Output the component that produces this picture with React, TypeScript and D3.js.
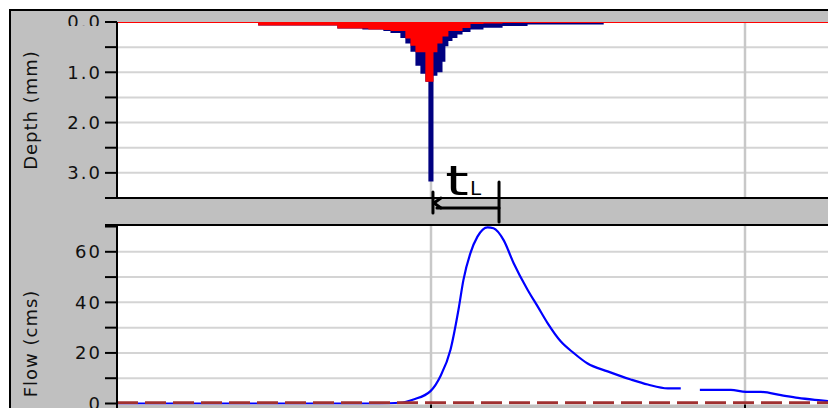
import React, { useRef, useEffect } from "react";
import * as d3 from "d3";

// rainfall hyetograph, step values start at each hour listed
const rainHours = [
  10.79, 16.84, 18.75, 19.21, 20.36, 20.9, 21.66, 22.04, 22.43, 22.81, 23.19, 23.57, 23.8,
  24.19, 24.49, 24.88, 25.1, 25.33, 25.64, 26.02, 26.41, 27.02, 28.01, 29.47, 31.38, 37.2,
];
const rainTotal = [
  0.07, 0.13, 0.15, 0.15, 0.18, 0.22, 0.32, 0.43, 0.59, 0.87, 1.03, 1.19, 3.17,
  1.07, 1.0, 0.79, 0.48, 0.38, 0.32, 0.25, 0.2, 0.15, 0.115, 0.08, 0.05, 0,
];
const rainExcess = [
  0.07, 0.13, 0.13, 0.15, 0.16, 0.18, 0.18, 0.33, 0.47, 0.6, 0.6, 1.19, 1.19,
  0.6, 0.43, 0.29, 0.29, 0.18, 0.18, 0.18, 0.12, 0.04, 0.03, 0.02, 0.02, 0,
];

// runoff hydrograph (null = missing record)
const flowHours = [
  0, 20.0, 21.66, 22.66, 23.96, 24.72, 25.49, 26.1, 26.48, 27.02, 27.55, 28.32, 28.78,
  29.54, 30.31, 31.38, 32.15, 32.91, 33.91, 34.9, 35.97, 37.5, 39.27, 40.57, 42.1, 43.09,
  44.0, 44.55, 46.92, 48.07, 49.22, 50.75, 52.05, 53.8, 55.34,
];
const flowCms: (number | null)[] = [
  0, 0, 0.3, 1.6, 4.9, 10.8, 21.3, 37.1, 48.9, 59.6, 66.0, 69.7, 69.3,
  64.7, 55.6, 45.0, 38.4, 31.8, 24.6, 20.0, 15.8, 12.7, 9.5, 7.5, 6.0, 6.0,
  null, 5.4, 5.4, 4.6, 4.6, 3.3, 2.2, 1.2, 0.4,
];
const baseHours = [0, 72];
const baseCms = [0, 0];

const depthTicks = [0, 0.5, 1, 1.5, 2, 2.5, 3, 3.5];
const depthLabels = ["0.0", "1.0", "2.0", "3.0"];
const flowTicks = [0, 10, 20, 30, 40, 50, 60, 70];
const flowLabels = ["0", "20", "40", "60"];
const timeGrid = [24, 48];
const lagHours = [24.15, 29.2];

const FONT = "'DejaVu Sans', Verdana, sans-serif";

function Hydrograph() {
  const svgRef = useRef<SVGSVGElement>(null);

  useEffect(() => {
    const W = 828;
    const H = 408;
    const left = 117;
    const topPanel = { y0: 22, y1: 198 };
    const botPanel = { y0: 225, y1: 404.5 };

    const svg = d3.select(svgRef.current);
    svg.selectAll("*").remove();

    const x = d3.scaleLinear().domain([0, 72]).range([left, left + 314 * 3]);
    const yDepth = d3.scaleLinear().domain([0, 3.5]).range([topPanel.y0, topPanel.y1]);
    const yFlow = d3.scaleLinear().domain([0, 70.6]).range([403.5, botPanel.y0]);

    const defs = svg.append("defs");
    defs.append("clipPath").attr("id", "clip-top")
      .append("rect").attr("x", left).attr("y", topPanel.y0)
      .attr("width", W - left).attr("height", topPanel.y1 - topPanel.y0);
    defs.append("clipPath").attr("id", "clip-bot")
      .append("rect").attr("x", left).attr("y", botPanel.y0)
      .attr("width", W - left).attr("height", botPanel.y1 - botPanel.y0);
    defs.append("clipPath").attr("id", "clip-zero")
      .append("rect").attr("x", 0).attr("y", 0).attr("width", left).attr("height", 26);

    // window frame
    svg.append("rect")
      .attr("x", 10).attr("y", 10).attr("width", W).attr("height", H)
      .attr("fill", "#c0c0c0").attr("stroke", "#000").attr("stroke-width", 2);

    // plot backgrounds
    svg.append("rect").attr("x", left).attr("y", topPanel.y0)
      .attr("width", W - left).attr("height", topPanel.y1 - topPanel.y0).attr("fill", "#fff");
    svg.append("rect").attr("x", left).attr("y", botPanel.y0)
      .attr("width", W - left).attr("height", botPanel.y1 - botPanel.y0).attr("fill", "#fff");

    /* ---------- grid ---------- */
    const gridTop = svg.append("g");
    gridTop.selectAll("line.h")
      .data(depthTicks.filter((d) => d > 0 && d < 3.5))
      .join("line")
      .attr("x1", left).attr("x2", W)
      .attr("y1", (d) => yDepth(d)).attr("y2", (d) => yDepth(d))
      .attr("stroke", "#d4d4d4").attr("stroke-width", 2);
    gridTop.selectAll("line.v")
      .data(timeGrid)
      .join("line")
      .attr("x1", (d) => x(d)).attr("x2", (d) => x(d))
      .attr("y1", topPanel.y0).attr("y2", topPanel.y1)
      .attr("stroke", "#c8c8c8").attr("stroke-width", 2.5);

    const gridBot = svg.append("g");
    gridBot.selectAll("line.h")
      .data(flowTicks.filter((d) => d > 0 && d < 70))
      .join("line")
      .attr("x1", left).attr("x2", W)
      .attr("y1", (d) => yFlow(d)).attr("y2", (d) => yFlow(d))
      .attr("stroke", "#d4d4d4").attr("stroke-width", 2);
    gridBot.selectAll("line.v")
      .data(timeGrid)
      .join("line")
      .attr("x1", (d) => x(d)).attr("x2", (d) => x(d))
      .attr("y1", botPanel.y0).attr("y2", botPanel.y1)
      .attr("stroke", "#c8c8c8").attr("stroke-width", 2.5);

    /* ---------- rainfall bars ---------- */
    const rainArea = (vals: number[]) =>
      d3.area<number>()
        .x((_, i) => x(rainHours[i]))
        .y0(yDepth(0))
        .y1((_, i) => yDepth(vals[i]))
        .curve(d3.curveStepAfter)(vals);

    const rainG = svg.append("g").attr("clip-path", "url(#clip-top)");
    rainG.append("path").attr("d", rainArea(rainTotal)).attr("fill", "#000080");
    rainG.append("path").attr("d", rainArea(rainExcess)).attr("fill", "#ff0000");
    rainG.append("line")
      .attr("x1", left).attr("x2", W)
      .attr("y1", yDepth(0)).attr("y2", yDepth(0))
      .attr("stroke", "#ff0000").attr("stroke-width", 2);

    /* ---------- flow ---------- */
    const flowG = svg.append("g").attr("clip-path", "url(#clip-bot)");
    const flowLine = d3.line<number | null>()
      .defined((d) => d !== null)
      .x((_, i) => x(flowHours[i]))
      .y((d) => yFlow(d as number))
      .curve(d3.curveMonotoneX);
    flowG.append("path")
      .attr("d", flowLine(flowCms))
      .attr("fill", "none").attr("stroke", "#0000ff").attr("stroke-width", 2.2);

    const baseLine = d3.line<number>()
      .x((_, i) => x(baseHours[i]))
      .y((d) => yFlow(d) - 0.8);
    flowG.append("path")
      .attr("d", baseLine(baseCms))
      .attr("fill", "none").attr("stroke", "#a03030").attr("stroke-width", 3)
      .attr("stroke-dasharray", "21 7");

    /* ---------- axes ---------- */
    const axes = svg.append("g").attr("stroke", "#000").attr("stroke-width", 2);
    axes.append("line").attr("x1", left).attr("x2", left)
      .attr("y1", topPanel.y0).attr("y2", topPanel.y1);
    axes.append("line").attr("x1", left).attr("x2", left)
      .attr("y1", botPanel.y0).attr("y2", H);
    axes.append("line").attr("x1", 105).attr("x2", W)
      .attr("y1", topPanel.y1).attr("y2", topPanel.y1);
    axes.append("line").attr("x1", 105).attr("x2", W)
      .attr("y1", botPanel.y0).attr("y2", botPanel.y0);
    axes.selectAll("line.dt").data(depthTicks).join("line")
      .attr("x1", 105).attr("x2", left)
      .attr("y1", (d) => yDepth(d)).attr("y2", (d) => yDepth(d));
    axes.selectAll("line.ft").data(flowTicks).join("line")
      .attr("x1", 105).attr("x2", left)
      .attr("y1", (d) => yFlow(d)).attr("y2", (d) => yFlow(d));
    axes.selectAll("line.xt").data(timeGrid).join("line")
      .attr("x1", (d) => x(d)).attr("x2", (d) => x(d))
      .attr("y1", botPanel.y1).attr("y2", H);

    /* ---------- labels ---------- */
    const lab = svg.append("g")
      .style("font-family", FONT).style("font-size", "18px")
      .style("letter-spacing", "2px").attr("fill", "#111");
    lab.selectAll("text.d").data(depthLabels).join("text")
      .attr("x", 102)
      .attr("y", (d) => yDepth(+d))
      .attr("dy", "0.36em")
      .attr("text-anchor", "end")
      .attr("clip-path", (d) => (+d === 0 ? "url(#clip-zero)" : null))
      .text((d) => d);
    lab.selectAll("text.f").data(flowLabels).join("text")
      .attr("x", 102)
      .attr("y", (d) => yFlow(+d))
      .attr("dy", "0.36em")
      .attr("text-anchor", "end")
      .text((d) => d);

    const titles = svg.append("g")
      .style("font-family", FONT).style("font-size", "18px")
      .style("letter-spacing", "1px").attr("fill", "#111");
    titles.append("text")
      .attr("transform", `translate(37,${(topPanel.y0 + topPanel.y1) / 2}) rotate(-90)`)
      .attr("text-anchor", "middle")
      .text("Depth (mm)");
    titles.append("text")
      .attr("transform", `translate(37,343.5) rotate(-90)`)
      .attr("text-anchor", "middle")
      .text("Flow (cms)");

    /* ---------- lag time annotation ---------- */
    const xs = x(lagHours[0]);
    const xe = x(lagHours[1]);
    const mid = (topPanel.y1 + botPanel.y0) / 2;
    const ann = svg.append("g")
      .attr("stroke", "#000").attr("stroke-width", 3)
      .attr("stroke-linecap", "round").attr("fill", "none");
    ann.append("line").attr("x1", xs + 4).attr("x2", xe).attr("y1", mid - 3.5).attr("y2", mid - 3.5);
    ann.append("line").attr("x1", xe).attr("x2", xe).attr("y1", mid - 29.5).attr("y2", mid + 10.5);
    ann.append("line").attr("x1", xs).attr("x2", xs).attr("y1", mid - 19.5).attr("y2", mid + 1.5);
    ann.append("line").attr("x1", xs + 1).attr("x2", xs + 8).attr("y1", mid - 8.5).attr("y2", mid - 13.5);
    ann.append("line").attr("x1", xs + 1).attr("x2", xs + 8).attr("y1", mid - 8.5).attr("y2", mid - 3.5);

    svg.append("text")
      .attr("transform", `translate(${xs + 24},${mid - 16.5}) scale(1.5,1)`)
      .attr("text-anchor", "middle")
      .style("font-family", FONT).style("font-size", "40px")
      .attr("fill", "#000")
      .text("t");
    svg.append("text")
      .attr("x", xs + 37).attr("y", mid - 16.5)
      .style("font-family", FONT).style("font-size", "20px")
      .attr("fill", "#000")
      .text("L");
  }, []);

  return (
    <svg
      ref={svgRef}
      width={828}
      height={408}
      style={{ position: "absolute", left: 0, top: 0, display: "block" }}
    />
  );
}

export default function App() {
  return <Hydrograph />;
}
